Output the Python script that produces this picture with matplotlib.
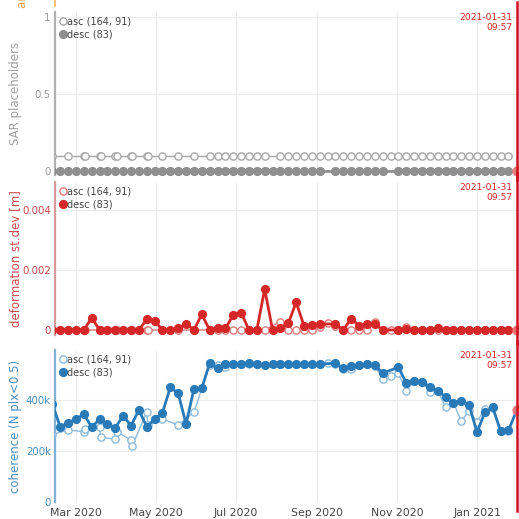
import numpy as np
import matplotlib
matplotlib.use("Agg")
import matplotlib.pyplot as plt
import matplotlib.dates as mdates
from matplotlib.lines import Line2D

# ---------------- data ----------------
desc_dates = [
    "2020-02-12", "2020-02-18", "2020-02-24", "2020-03-01", "2020-03-07", "2020-03-13",
    "2020-03-19", "2020-03-25", "2020-03-31", "2020-04-06", "2020-04-12", "2020-04-18",
    "2020-04-24", "2020-04-30", "2020-05-06", "2020-05-12", "2020-05-18", "2020-05-24",
    "2020-05-30", "2020-06-05", "2020-06-11", "2020-06-17", "2020-06-23", "2020-06-29",
    "2020-07-05", "2020-07-11", "2020-07-17", "2020-07-23", "2020-07-29", "2020-08-04",
    "2020-08-10", "2020-08-16", "2020-08-22", "2020-08-28", "2020-09-03",
    "2020-09-15", "2020-09-21", "2020-09-27", "2020-10-03", "2020-10-09", "2020-10-15",
    "2020-10-21", "2020-11-02", "2020-11-08", "2020-11-14", "2020-11-20",
    "2020-11-26", "2020-12-02", "2020-12-08", "2020-12-14", "2020-12-20", "2020-12-26",
    "2021-01-01", "2021-01-07", "2021-01-13", "2021-01-19", "2021-01-25", "2021-01-31T09:57",
]
desc_coh = [
    385e3, 294e3, 311e3, 325e3, 344e3, 294e3,
    324e3, 306e3, 291e3, 338e3, 299e3, 361e3,
    295e3, 325e3, 350e3, 450e3, 426e3, 306e3,
    443e3, 446e3, 544e3, 524e3, 541e3, 541e3,
    541e3, 544e3, 541e3, 538e3, 541e3, 542e3,
    541e3, 541e3, 541e3, 541e3, 541e3,
    544e3, 524e3, 533e3, 537e3, 540e3, 537e3,
    505e3, 528e3, 468e3, 475e3, 472e3,
    452e3, 437e3, 411e3, 387e3, 397e3, 380e3,
    273e3, 352e3, 371e3, 278e3, 281e3, 361e3,
]
desc_std = [
    0.0, 0.0, 0.0, 0.0, 0.0, 0.00040,
    0.0, 0.0, 0.0, 0.0, 0.0, 0.0,
    0.00035, 0.00030, 0.0, 0.0, 0.00005, 0.00021,
    0.0, 0.00052, 0.0, 0.00005, 0.00005, 0.00050,
    0.00058, 0.0, 0.0, 0.00136, 0.0, 0.00005,
    0.00022, 0.00092, 0.00014, 0.00015, 0.00020,
    0.00020, 0.0, 0.00038, 0.00014, 0.00020, 0.00020,
    0.0, 0.0, 0.00003, 0.0, 0.0,
    0.0, 0.00008, 0.0, 0.0, 0.0, 0.0,
    0.0, 0.0, 0.0, 0.0, 0.0, 0.0,
]

asc_dates = [
    "2020-02-12", "2020-02-24", "2020-03-07", "2020-03-08", "2020-03-19", "2020-03-20",
    "2020-03-31", "2020-04-01", "2020-04-12", "2020-04-13", "2020-04-24", "2020-04-25",
    "2020-05-06", "2020-05-18", "2020-05-30", "2020-06-11", "2020-06-17", "2020-06-23",
    "2020-06-29", "2020-07-05", "2020-07-11", "2020-07-17", "2020-07-23", "2020-08-04",
    "2020-08-10", "2020-08-16", "2020-08-22", "2020-08-28", "2020-09-03", "2020-09-09",
    "2020-09-15", "2020-09-21", "2020-09-27", "2020-10-03", "2020-10-09", "2020-10-15",
    "2020-10-21", "2020-10-27", "2020-11-02", "2020-11-08", "2020-11-14", "2020-11-20",
    "2020-11-26", "2020-12-02", "2020-12-08", "2020-12-14", "2020-12-20", "2020-12-26",
    "2021-01-01", "2021-01-07", "2021-01-13", "2021-01-19", "2021-01-25",
]
asc_coh = [
    265e3, 282e3, 276e3, 285e3, 293e3, 254e3,
    246e3, 276e3, 243e3, 221e3, 352e3, 300e3,
    325e3, 302e3, 352e3, 537e3, 537e3, 529e3,
    541e3, 541e3, 541e3, 541e3, 538e3, 541e3,
    541e3, 541e3, 541e3, 541e3, 541e3, 544e3,
    541e3, 520e3, 520e3, 537e3, 540e3, 532e3,
    484e3, 495e3, 505e3, 436e3, 476e3, 470e3,
    433e3, 435e3, 374e3, 390e3, 317e3, 358e3,
    315e3, 365e3, 368e3, 280e3, 280e3,
]
asc_std = [
    0.0, 0.0, 0.0, 0.0, 0.0, 0.0,
    0.0, 0.0, 0.0, 0.0, 0.0, 0.0,
    0.0, 0.0, 0.0, 0.0, 0.0, 0.0,
    0.0, 0.0, 0.0, 0.0, 0.0, 0.00028,
    0.0, 0.0, 0.0, 0.0, 0.00010, 0.00022,
    0.00012, 0.0, 0.0, 0.0, 0.0, 0.00028,
    0.0, 0.0, 0.0, 0.00010, 0.0, 0.0,
    0.0, 0.0, 0.0, 0.0, 0.0, 0.0,
    0.0, 0.0, 0.0, 0.0, 0.0,
]
asc_placeholder_level = 0.1
desc_placeholder_level = 0.0

event_time = "2021-01-31T09:57"
event_label = "2021-01-31\n09:57"

x_tick_dates = ["2020-03-01", "2020-05-01", "2020-07-01", "2020-09-01", "2020-11-01", "2021-01-01"]
x_tick_labels = ["Mar 2020", "May 2020", "Jul 2020", "Sep 2020", "Nov 2020", "Jan 2021"]
x_range = ["2020-02-14", "2021-02-02T01:00"]

asc_label = "asc (164, 91)"
desc_label = "desc (83)"

# ---------------- helpers ----------------
to_num = lambda seq: mdates.date2num(np.array(seq, dtype="datetime64[m]"))
d_desc = to_num(desc_dates)
d_asc = to_num(asc_dates)
t_event = to_num([event_time])[0]

W = H = 519
fig = plt.figure(figsize=(W / 100, H / 100), dpi=100)
fig.patch.set_facecolor("white")


def px_axes(top, bottom, left=55, right=519):
    return fig.add_axes([left / W, 1 - bottom / H, (right - left) / W, (bottom - top) / H])


panels = [
    dict(top=12, bottom=175, ylim=(-0.026, 1.035), yticks=[0, 0.5, 1], ytl=["0", "0.5", "1"],
         ylabel="SAR placeholders", color="#8f8f8f", asc_color="#a8a8a8", spine="#b0b0b0",
         tick_color="#9a9a9a", label_color="#a0a0a0",
         asc=[asc_placeholder_level] * len(asc_dates), desc=[desc_placeholder_level] * len(desc_dates)),
    dict(top=182, bottom=335, ylim=(-0.000167, 0.00493), yticks=[0, 0.002, 0.004],
         ytl=["0", "0.002", "0.004"], ylabel="deformation st.dev [m]", color="#d62728",
         asc_color="#e07a7b", spine="#d99a9a", tick_color="#c8474a", label_color="#cf4a4c",
         asc=asc_std, desc=desc_std),
    dict(top=350, bottom=502, ylim=(0, 596e3), yticks=[0, 200e3, 400e3],
         ytl=["0", "200k", "400k"], ylabel="coherence (N plx<0.5)", color="#2a7ab8",
         asc_color="#8dbbdc", spine="#7fb2d5", tick_color="#4a8fc2", label_color="#4a8fc2",
         asc=asc_coh, desc=desc_coh),
]

xlo, xhi = to_num(x_range)
xt = to_num(x_tick_dates)

for i, p in enumerate(panels):
    ax = px_axes(p["top"], p["bottom"])
    ax.set_facecolor("white")
    ax.set_xlim(xlo, xhi)
    ax.set_ylim(*p["ylim"])
    for s in ["top", "right", "bottom"]:
        ax.spines[s].set_visible(False)
    ax.spines["left"].set_color(p["spine"])
    ax.spines["left"].set_linewidth(1.6)
    ax.set_xticks(xt)
    ax.set_yticks(p["yticks"])
    ax.set_yticklabels(p["ytl"])
    ax.tick_params(axis="y", length=0, pad=3, labelsize=7.4, labelcolor=p["tick_color"])
    ax.tick_params(axis="x", length=0, pad=4, labelsize=7.8, labelcolor="#444444")
    if i == 2:
        ax.set_xticklabels(x_tick_labels)
    else:
        ax.set_xticklabels([])
    ax.grid(True, color="#ebebeb", linewidth=0.8)
    ax.set_axisbelow(True)

    # ascending: thin light line, hollow markers
    ax.plot(d_asc, p["asc"], color=p["asc_color"], lw=1.0, marker="o", ms=5.2,
            mfc="white", mec=p["asc_color"], mew=1.0, zorder=3, label=asc_label, clip_on=True)
    # descending: bold line, filled markers
    ax.plot(d_desc, p["desc"], color=p["color"], lw=2.0, marker="o", ms=5.6,
            mfc=p["color"], mec=p["color"], zorder=4, label=desc_label)
    # highlighted last acquisition
    ax.plot(d_desc[-1:], p["desc"][-1:], "o", ms=6.5, color="#f07c7c", alpha=0.85, zorder=5)

    # event marker
    ax.axvline(t_event, ymin=-0.06, ymax=1.06, color="#d0101e", lw=1.8, zorder=6, clip_on=False)
    ax.annotate(event_label, xy=(t_event, 1), xycoords=ax.get_xaxis_transform(),
                xytext=(-3, -1), textcoords="offset points", ha="right", va="top",
                fontsize=6.6, color="#d62728", linespacing=1.15, zorder=7)

    ax.set_ylabel(p["ylabel"], fontsize=8.5, color=p["label_color"])
    ax.yaxis.set_label_coords(-(55 - 22) / 464, 0.5)

    handles = [
        Line2D([], [], ls="none", marker="o", ms=5.2, mfc="white", mec=p["asc_color"], mew=1.0),
        Line2D([], [], ls="none", marker="o", ms=5.6, mfc=p["color"], mec=p["color"]),
    ]
    leg = ax.legend(handles, [asc_label, desc_label], loc="upper left", frameon=False,
                    fontsize=7, handlelength=0.6, handletextpad=0.15, labelspacing=0.25,
                    borderaxespad=0.3, borderpad=0.2)
    for t in leg.get_texts():
        t.set_color("#444444")

# fragment of the panel above
fig.text(23 / W, 1 - 8 / H, "amplitude [dB]", rotation=90, ha="center", va="bottom",
         fontsize=8.5, color="#f0a050")
fig.add_artist(Line2D([55 / W, 55 / W], [1 - 6 / H, 1.0], color="#f5b36a", lw=1.2))

fig.savefig("out.png", dpi=100, facecolor="white")
